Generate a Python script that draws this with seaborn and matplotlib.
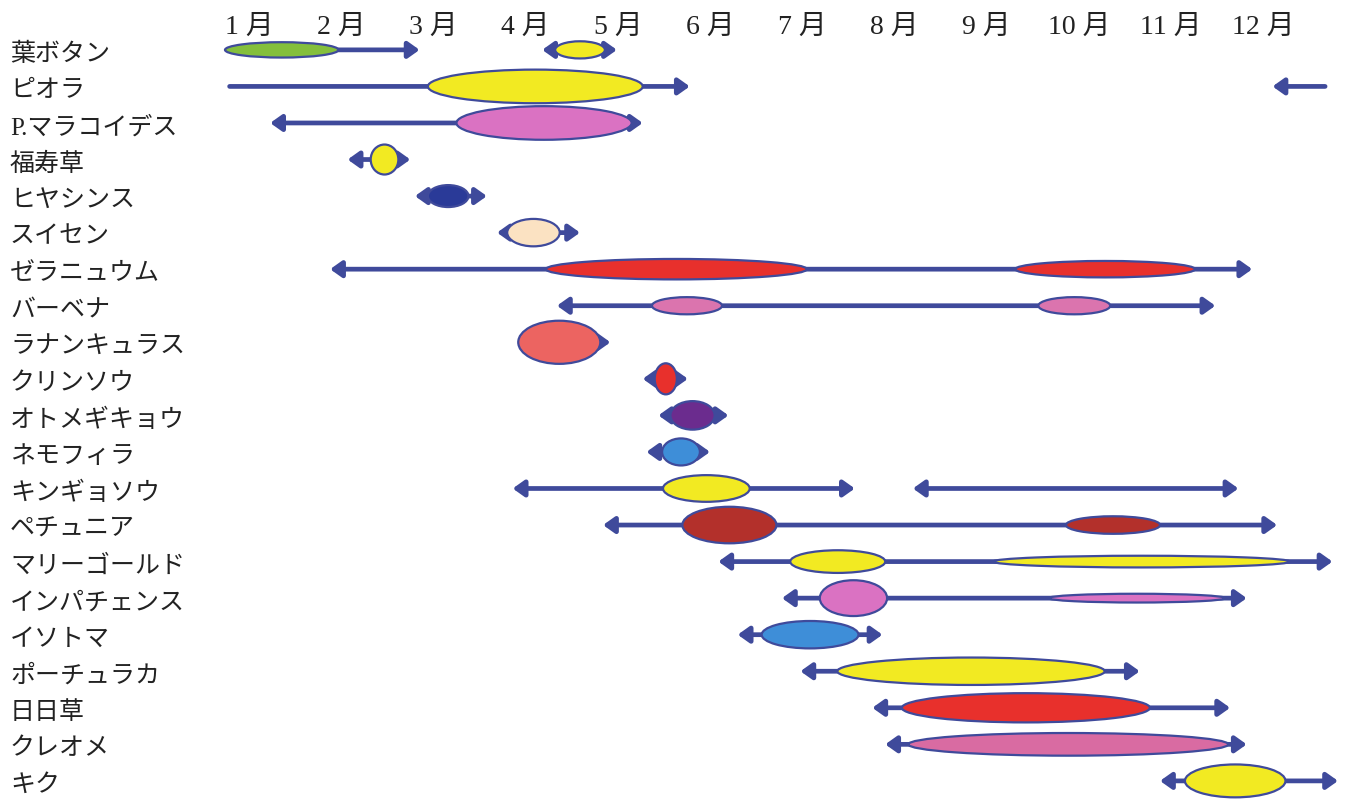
"""
花の開花カレンダー。
月ごとの流通期間（矢印）と開花の最盛期（楕円）を描く。
"""

import matplotlib
matplotlib.use("Agg")
import matplotlib.pyplot as plt
from matplotlib.patches import Ellipse, FancyArrowPatch
from matplotlib import transforms
import seaborn as sns
import pandas as pd

flowers = ["葉ボタン", "ピオラ", "P.マラコイデス", "福寿草", "ヒヤシンス", "スイセン",
           "ゼラニュウム", "バーベナ", "ラナンキュラス", "クリンソウ", "オトメギキョウ",
           "ネモフィラ", "キンギョソウ", "ペチュニア", "マリーゴールド", "インパチェンス",
           "イソトマ", "ポーチュラカ", "日日草", "クレオメ", "キク"]
months = [f"{m} 月" for m in range(1, 13)]

# 流通期間（月単位、矢印の向き）
seg_flower = ["葉ボタン", "葉ボタン", "ピオラ", "ピオラ", "P.マラコイデス", "福寿草",
              "ヒヤシンス", "スイセン", "ゼラニュウム", "バーベナ", "ラナンキュラス",
              "クリンソウ", "オトメギキョウ", "ネモフィラ", "キンギョソウ", "キンギョソウ",
              "ペチュニア", "マリーゴールド", "インパチェンス", "イソトマ", "ポーチュラカ",
              "日日草", "クレオメ", "キク"]
seg_start = [1.50, 4.18, 0.79, 12.10, 1.23, 2.07, 2.80, 3.69, 1.88, 4.34, 4.40,
             5.27, 5.44, 5.31, 3.86, 8.20, 4.84, 6.09, 6.78, 6.30, 6.98, 7.76, 7.90, 10.88]
seg_end = [2.85, 4.99, 5.78, 12.67, 5.27, 2.75, 3.58, 4.59, 11.88, 11.48, 4.92,
           5.76, 6.20, 6.00, 7.57, 11.73, 12.15, 12.75, 11.82, 7.87, 10.66, 11.64, 11.82, 12.81]
seg_arrow = ["right", "both", "right", "left", "both", "both", "both", "both", "both", "both", "right",
             "both", "both", "both", "both", "both", "both", "both", "both", "both", "both",
             "both", "both", "both"]

# 開花の最盛期（開始月、終了月、盛り具合、花色）
bloom_flower = ["葉ボタン", "葉ボタン", "ピオラ", "P.マラコイデス", "福寿草", "ヒヤシンス",
                "スイセン", "ゼラニュウム", "ゼラニュウム", "バーベナ", "バーベナ",
                "ラナンキュラス", "クリンソウ", "オトメギキョウ", "ネモフィラ", "キンギョソウ",
                "ペチュニア", "ペチュニア", "マリーゴールド", "マリーゴールド",
                "インパチェンス", "インパチェンス", "イソトマ", "ポーチュラカ", "日日草",
                "クレオメ", "キク"]
bloom_start = [0.74, 4.32, 2.94, 3.25, 2.32, 2.94, 3.80, 4.22, 9.31, 5.37, 9.56,
               3.92, 5.40, 5.57, 5.48, 5.49, 5.70, 9.86, 6.87, 9.07,
               7.19, 9.67, 6.56, 7.38, 8.08, 8.15, 11.15]
bloom_end = [1.97, 4.86, 5.27, 5.15, 2.62, 3.38, 4.37, 7.05, 11.26, 6.13, 10.34,
             4.81, 5.64, 6.05, 5.89, 6.43, 6.72, 10.88, 7.90, 12.29,
             7.92, 11.59, 7.61, 10.28, 10.77, 11.62, 12.24]
bloom_size = [0.42, 0.47, 0.92, 0.92, 0.82, 0.60, 0.75, 0.56, 0.45, 0.47, 0.47,
              1.18, 0.85, 0.78, 0.74, 0.73, 1.00, 0.48, 0.62, 0.32,
              0.98, 0.24, 0.75, 0.75, 0.80, 0.62, 0.90]
bloom_color = ["green", "yellow", "yellow", "orchid", "yellow", "navy", "peach", "red", "red",
               "pink", "pink", "salmon", "red", "purple", "blue", "yellow", "darkred",
               "darkred", "yellow", "yellow", "orchid", "orchid", "blue", "yellow", "red",
               "rose", "yellow"]

palette = {"green": "#84BF3C", "yellow": "#F2EA22", "orchid": "#DA72C2", "navy": "#2A3A98",
           "peach": "#FBE2C2", "red": "#E8302C", "pink": "#DB74AE", "salmon": "#EC6461",
           "purple": "#6B2C8E", "blue": "#3E8ED8", "darkred": "#B3302B", "rose": "#D96BA2"}
line_color = "#3F4A9B"

segs = pd.DataFrame({"flower": seg_flower, "start": seg_start, "end": seg_end, "arrow": seg_arrow})
blooms = pd.DataFrame({"flower": bloom_flower, "start": bloom_start, "end": bloom_end,
                       "size": bloom_size, "color": bloom_color})
row = {f: i for i, f in enumerate(flowers)}

sns.set_theme(style="white")
plt.rcParams['font.family'] = ['Liberation Serif', 'Noto Sans CJK JP', 'DejaVu Sans']

fig = plt.figure(figsize=(13.5, 8.01), dpi=100)
ax = fig.add_axes([0, 0, 1, 1 - 40 / 801])
ax.set_xlim(-1.70, 12.94)
ax.set_ylim(20.55, -0.27)

styles = {"right": "-|>", "left": "<|-", "both": "<|-|>"}
for _, s in segs.iterrows():
    y = row[s["flower"]]
    arr = FancyArrowPatch((s["start"], y), (s["end"], y),
                          arrowstyle=styles[s["arrow"]] + ",head_length=0.45,head_width=0.32",
                          mutation_scale=15, color=line_color, lw=3.4,
                          shrinkA=0, shrinkB=0, zorder=1)
    ax.add_patch(arr)

for _, b in blooms.iterrows():
    y = row[b["flower"]]
    e = Ellipse(((b["start"] + b["end"]) / 2, y), width=b["end"] - b["start"], height=b["size"],
                facecolor=palette[b["color"]], edgecolor=line_color, lw=1.6, zorder=2)
    ax.add_patch(e)

# 品種名は左端に揃え、少し下げる
trans = transforms.blended_transform_factory(ax.transAxes, ax.transData)
trans = transforms.offset_copy(trans, fig=fig, y=-5, units="dots")
for f in flowers:
    ax.text(10 / 1350, row[f], f, transform=trans, ha="left", va="center",
            fontsize=18, color="#222222")

ax.xaxis.tick_top()
ax.set_xticks(range(1, 13))
ax.set_xticklabels(months, fontsize=20, color="#222222")
ax.set_yticks([])
ax.tick_params(axis="x", length=0, pad=0)
sns.despine(ax=ax, left=True, bottom=True, top=True, right=True)

fig.savefig("out.png", dpi=100)
plt.close()
